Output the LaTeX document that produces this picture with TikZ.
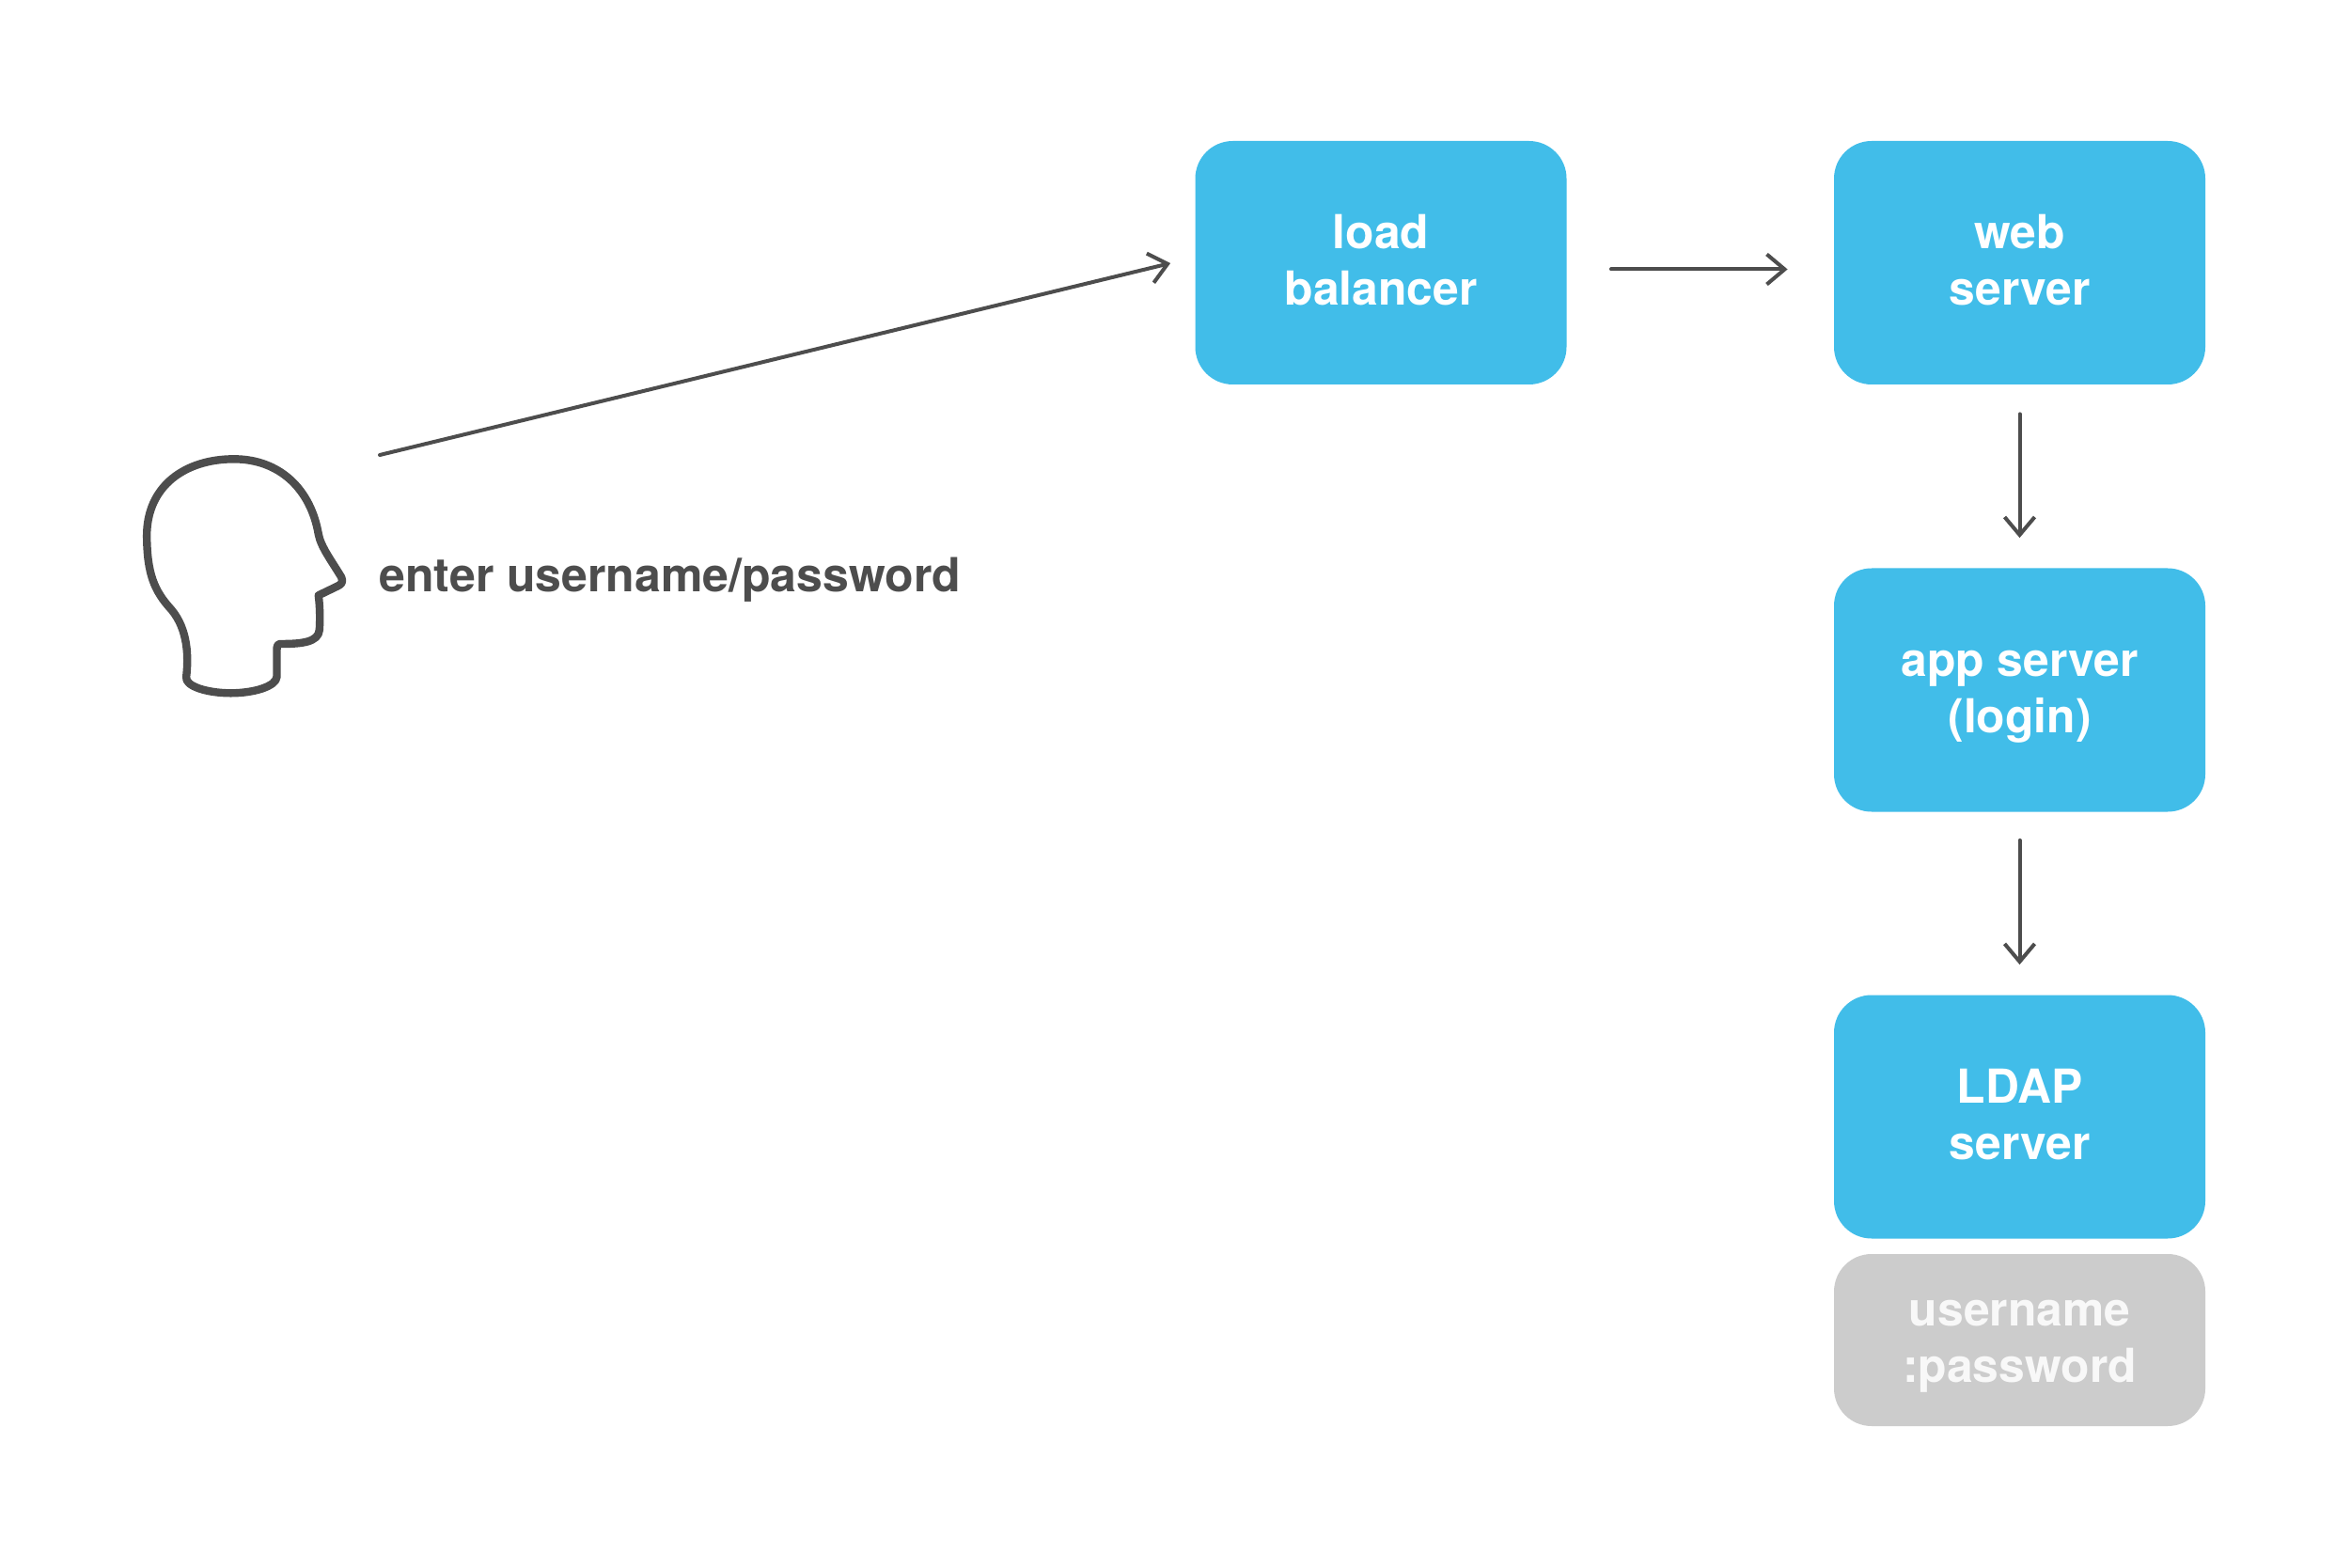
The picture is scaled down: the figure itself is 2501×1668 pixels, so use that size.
\documentclass[tikz,border=0pt]{standalone}
\usepackage{fontspec}
\setmainfont{TeX Gyre Heros}
\usetikzlibrary{arrows.meta}
\definecolor{boxblue}{HTML}{41BDE9}
\definecolor{boxgray}{HTML}{CCCCCC}
\definecolor{ink}{HTML}{4D4D4D}
\definecolor{paletext}{HTML}{F8F8F8}
\newcommand{\ls}{\vrule height21pt depth6pt width0pt\relax}
\tikzset{
  tile/.style={rounded corners=20pt,minimum width=197.5pt,minimum height=129.5pt,inner sep=0pt,align=center,
    font=\fontsize{24.9}{30}\selectfont\bfseries},
  bluetile/.style={tile,fill=boxblue,text=white},
  graytile/.style={tile,fill=boxgray,text=paletext,minimum height=91.5pt},
  flow/.style={draw=ink,line width=2pt,line cap=round,-{Straight Barb[length=9.5pt,width=16pt,line width=2pt]}},
  headline/.style={draw=ink,line width=4.2pt,line join=round},
}
\begin{document}
\begin{tikzpicture}[x=0.5pt,y=-0.5pt]
\useasboundingbox (0,0) rectangle (2501,1668);
\fill[white] (0,0) rectangle (2501,1668);
\node[bluetile] (lb) at (1469,279.5) {\ls load\\\ls balancer};
\node[bluetile] (web) at (2148.5,279.5) {\ls web\\\ls server};
\node[bluetile] (app) at (2148.5,734) {\ls app server\\\ls (login)};
\node[bluetile] (ldap) at (2148.5,1188) {\ls LDAP\\\ls server};
\node[graytile] (cred) at (2148.5,1425.5) {\ls username\\\ls :password};
\node[anchor=base west,inner sep=0pt,text=ink,font=\fontsize{25}{30}\selectfont\bfseries] (lbl) at (403,630) {enter username/password};
\coordinate (userout) at (404,484);
\draw[flow] (userout) -- ([shift={(-26,0.5)}]lb.west);
\draw[flow] ([shift={(47,7)}]lb.east) -- ([shift={(-49,7)}]web.west);
\draw[flow] ([shift={(0,31)}]web.south) -- ([shift={(0,-32)}]app.north);
\draw[flow] ([shift={(0,30)}]app.south) -- ([shift={(0,-32)}]ldap.north);
\begin{scope}[shift={(120.5,460)},x=0.5pt/3,y=-0.5pt/3]
\draw[headline] (233,780)
 .. controls (240,720) and (240,630) .. (185,565)
 .. controls (130,505) and (108,450) .. (107,330)
 .. controls (107,170) and (230,85) .. (385,85)
 .. controls (530,85) and (630,180) .. (655,325)
 .. controls (662,365) and (700,415) .. (728,462)
 .. controls (735,478) and (728,485) .. (715,491)
 -- (655,520)
 .. controls (660,560) and (660,600) .. (658,630)
 .. controls (655,670) and (600,675) .. (535,675)
 .. controls (525,675) and (522,680) .. (522,695)
 -- (522,780)
 .. controls (520,810) and (450,832) .. (375,832)
 .. controls (300,832) and (228,810) .. (233,780)
 -- cycle;
\end{scope}
\end{tikzpicture}
\end{document}
